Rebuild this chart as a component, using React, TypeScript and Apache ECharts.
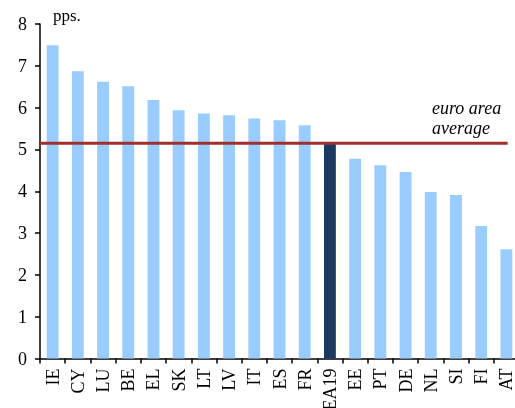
import React, { useEffect, useRef } from "react";
import * as echarts from "echarts";

const categories = ["IE", "CY", "LU", "BE", "EL", "SK", "LT", "LV", "IT", "ES", "FR", "EA19", "EE", "PT", "DE", "NL", "SI", "FI", "AT"];
const values = [7.49, 6.87, 6.62, 6.51, 6.18, 5.94, 5.86, 5.82, 5.74, 5.7, 5.58, 5.13, 4.78, 4.62, 4.46, 3.98, 3.91, 3.17, 2.61];
const highlight = "EA19";
const euroAreaAverage = 5.15;
const avgLineSpan = [-0.5, 18.05]; // category index span of the average line
const yTicks = { min: 0, max: 8, interval: 1 };

export default function App() {
  const ref = useRef<HTMLDivElement>(null);
  useEffect(() => {
    if (!ref.current) return;
    const chart = echarts.init(ref.current, null, { renderer: "svg" });
    const font = "'Liberation Serif', 'Times New Roman', serif";
    chart.setOption({
      animation: false,
      grid: { left: 40, width: 479, top: 24, bottom: 49.5, containLabel: false, outerBoundsMode: "none" },
      xAxis: [
        {
          type: "category",
          data: categories,
          axisLine: { lineStyle: { color: "#000", width: 1.5 } },
          axisTick: { show: true, inside: false, length: 5, alignWithLabel: false, lineStyle: { color: "#000", width: 1.5 } },
          axisLabel: { rotate: 90, color: "#000", fontFamily: font, fontSize: 18, margin: 10, interval: 0 },
        },
        {
          type: "value",
          min: -0.5,
          max: categories.length - 0.5,
          show: false,
          position: "bottom",
        },
      ],
      yAxis: {
        type: "value",
        min: yTicks.min,
        max: yTicks.max,
        interval: yTicks.interval,
        splitLine: { show: false },
        axisLine: { show: true, onZero: false, lineStyle: { color: "#000", width: 1.5 } },
        axisTick: { show: true, inside: false, length: 5, lineStyle: { color: "#000", width: 1.5 } },
        axisLabel: { color: "#000", fontFamily: font, fontSize: 18, margin: 13 },
      },
      series: [
        {
          type: "bar",
          xAxisIndex: 0,
          barWidth: "47%",
          data: values.map((v, i) => ({
            value: v,
            itemStyle: { color: categories[i] === highlight ? "#1b3a5f" : "#99ccff" },
          })),
        },
        {
          type: "line",
          xAxisIndex: 1,
          data: avgLineSpan.map((x) => [x, euroAreaAverage]),
          symbol: "none",
          lineStyle: { color: "#a0302c", width: 3 },
          z: 5,
        },
      ],
      graphic: [
        {
          type: "text",
          left: 53,
          top: 7,
          style: { text: "pps.", font: `17px ${font}`, fill: "#000" },
        },
        {
          type: "text",
          left: 432,
          top: 98,
          style: {
            text: "euro area\naverage",
            font: `italic 18px ${font}`,
            fill: "#000",
            lineHeight: 20,
          },
        },
      ],
    });
    return () => chart.dispose();
  }, []);
  return <div ref={ref} style={{ position: "fixed", left: 0, top: 0, width: 515, height: 408 }} />;
}
